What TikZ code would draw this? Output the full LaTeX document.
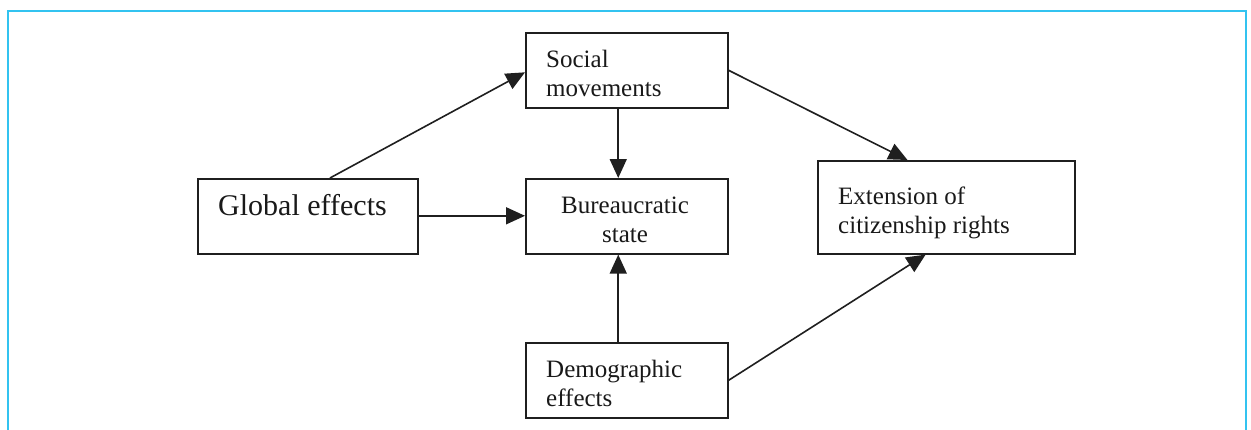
\documentclass[tikz,border=0pt]{standalone}
\usepackage{fontspec}
\setmainfont{Liberation Serif}
\usetikzlibrary{arrows.meta,calc}
\definecolor{framecol}{RGB}{50,195,240}
\begin{document}
\begin{tikzpicture}[x=1pt,y=-1pt,
  box/.style={draw=black!88, line width=1.6pt, rectangle, inner sep=0pt, anchor=north west},
  txt/.style={inner sep=0pt, align=left, font=\fontsize{25}{29}\selectfont, text=black!90},
  conn/.style={draw=black!88, line width=1.6pt, -{Triangle[length=19pt,width=17pt]}}]
\useasboundingbox (0,0) rectangle (1251,429);
\draw[framecol, line width=2pt] (8,430) -- (8,10.5) -- (1246,10.5) -- (1246,430);
% boxes
\node[box, minimum width=202pt, minimum height=75pt] (soc) at (525,32) {};
\node[box, minimum width=220pt, minimum height=75pt] (glob) at (197,178) {};
\node[box, minimum width=202pt, minimum height=75pt] (bur) at (525,178) {};
\node[box, minimum width=257pt, minimum height=93pt] (ext) at (817,160) {};
\node[box, minimum width=202pt, minimum height=75pt] (dem) at (525,342) {};
% texts (base anchor = baseline of last line)
\node[txt, anchor=base west] (soct) at (546,96) {Social\\movements};
\node[txt, anchor=base west, font=\fontsize{30}{34}\selectfont] (globt) at (218,215) {Global effects};
\node[txt, anchor=base, align=center] (burt) at (625,242) {Bureaucratic\\state};
\node[txt, anchor=base west] (extt) at (838,233) {Extension of\\citizenship rights};
\node[txt, anchor=base west] (demt) at (546,406) {Demographic\\effects};
% connectors
\draw[conn] ($(glob.north west)!0.6!(glob.north east)$) -- ($(soc.west)+(0,2)$);
\draw[conn] ($(glob.east)+(0,-0.5)$) -- ($(bur.west)+(0,-0.5)$);
\draw[conn] ($(soc.south west)!0.458!(soc.south east)$) -- ($(bur.north west)!0.458!(bur.north east)$);
\draw[conn] ($(dem.north west)!0.458!(dem.north east)$) -- ($(bur.south west)!0.458!(bur.south east)$);
\draw[conn] (soc.east) -- ($(ext.north west)!0.35!(ext.north east)$);
\draw[conn] (dem.east) -- ($(ext.south west)!0.42!(ext.south east)$);
\end{tikzpicture}
\end{document}
